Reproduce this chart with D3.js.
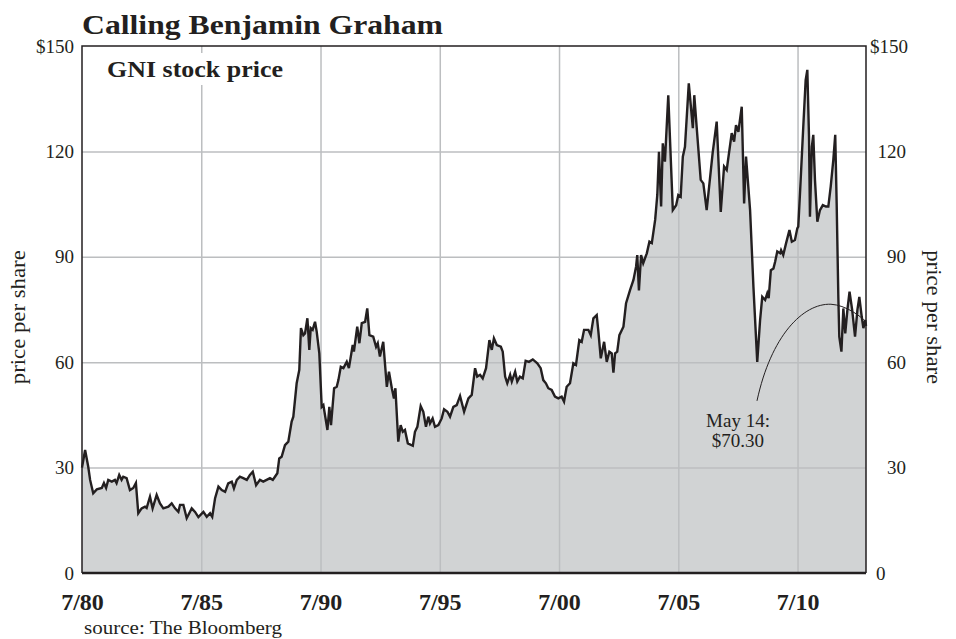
<!DOCTYPE html>
<html>
<head>
<meta charset="utf-8">
<script src="https://cdn.jsdelivr.net/npm/d3@7"></script>
<style>
  body { margin: 0; background: #fff; }
  text { font-family: "Liberation Serif", "DejaVu Serif", serif; fill: #231f20; }
</style>
</head>
<body>
<div id="chart"></div>
<script>
// GNI stock price (decimal year, $ per share)
var years = [
  1980.50, 1980.63, 1980.76, 1980.84, 1980.97, 1981.12, 1981.33, 1981.42, 1981.51, 1981.60,
  1981.75, 1981.88, 1981.95, 1982.06, 1982.16, 1982.23, 1982.37, 1982.51, 1982.65, 1982.76,
  1982.86, 1983.00, 1983.14, 1983.21, 1983.35, 1983.46, 1983.63, 1983.77, 1983.91, 1984.12,
  1984.26, 1984.40, 1984.54, 1984.61, 1984.75, 1984.89, 1985.10, 1985.24, 1985.38, 1985.59,
  1985.73, 1985.87, 1985.96, 1986.08, 1986.22, 1986.36, 1986.50, 1986.63, 1986.78, 1986.87,
  1986.99, 1987.12, 1987.26, 1987.41, 1987.54, 1987.66, 1987.80, 1987.96, 1988.10, 1988.24,
  1988.38, 1988.50, 1988.59, 1988.69, 1988.77, 1988.87, 1989.01, 1989.15, 1989.29, 1989.36,
  1989.50, 1989.61, 1989.68, 1989.78, 1989.85, 1989.95, 1990.03, 1990.09, 1990.17, 1990.27,
  1990.34, 1990.45, 1990.55, 1990.62, 1990.79, 1990.87, 1990.94, 1991.07, 1991.18, 1991.25,
  1991.35, 1991.46, 1991.60, 1991.69, 1991.85, 1991.90, 1992.04, 1992.13, 1992.23, 1992.37,
  1992.46, 1992.55, 1992.71, 1992.83, 1992.90, 1992.99, 1993.13, 1993.28, 1993.37, 1993.49,
  1993.58, 1993.64, 1993.76, 1993.86, 1993.95, 1994.04, 1994.16, 1994.37, 1994.46, 1994.56,
  1994.70, 1994.81, 1994.92, 1995.02, 1995.09, 1995.20, 1995.30, 1995.44, 1995.58, 1995.68,
  1995.82, 1995.93, 1996.07, 1996.21, 1996.35, 1996.52, 1996.70, 1996.84, 1996.98, 1997.07,
  1997.19, 1997.30, 1997.44, 1997.58, 1997.68, 1997.77, 1997.89, 1998.06, 1998.14, 1998.24,
  1998.33, 1998.45, 1998.52, 1998.66, 1998.75, 1998.86, 1998.98, 1999.10, 1999.24, 1999.40,
  1999.59, 1999.73, 1999.84, 1999.95, 2000.05, 2000.19, 2000.33, 2000.47, 2000.61, 2000.71,
  2000.82, 2000.96, 2001.10, 2001.21, 2001.35, 2001.45, 2001.55, 2001.73, 2001.83, 2001.94,
  2002.08, 2002.15, 2002.25, 2002.39, 2002.50, 2002.61, 2002.71, 2002.78, 2002.85, 2002.94,
  2003.03, 2003.20, 2003.31, 2003.48, 2003.62, 2003.73, 2003.78, 2003.85, 2003.94, 2004.03,
  2004.18, 2004.29, 2004.39, 2004.53, 2004.62, 2004.69, 2004.78, 2004.85, 2004.94, 2005.08,
  2005.27, 2005.41, 2005.50, 2005.60, 2005.69, 2005.78, 2005.94, 2006.11, 2006.17, 2006.27,
  2006.44, 2006.55, 2006.69, 2006.94, 2007.11, 2007.28, 2007.42, 2007.53, 2007.74, 2007.84,
  2007.92, 2008.02, 2008.16, 2008.26, 2008.34, 2008.51, 2008.65, 2008.81, 2008.93, 2009.02,
  2009.14, 2009.23, 2009.29, 2009.38, 2009.49, 2009.56, 2009.65, 2009.77, 2009.81, 2009.90,
  2010.02, 2010.16, 2010.26, 2010.39, 2010.49, 2010.53, 2010.61, 2010.74, 2010.84, 2010.91,
  2010.98, 2011.02, 2011.10, 2011.16, 2011.23, 2011.33, 2011.44, 2011.56, 2011.69, 2011.79,
  2011.89, 2012.00, 2012.08, 2012.14, 2012.21, 2012.25, 2012.34, 2012.42, 2012.50, 2012.59,
  2012.68, 2012.79, 2012.91, 2013.01, 2013.09, 2013.19, 2013.26, 2013.34, 2013.37
];
var prices = [
  30.0, 35.0, 30.3, 26.5, 22.7, 23.8, 24.2, 25.6, 24.2, 26.5,
  26.0, 26.5, 25.6, 27.9, 26.5, 27.4, 27.0, 23.6, 24.2, 25.6,
  17.0, 18.4, 18.9, 18.5, 21.7, 18.4, 22.2, 19.8, 18.4, 18.9,
  19.8, 18.4, 17.4, 19.4, 19.4, 15.6, 18.4, 17.4, 15.9, 17.4,
  16.0, 17.0, 16.0, 21.3, 24.6, 23.6, 23.1, 25.5, 26.0, 24.1,
  26.5, 27.4, 27.0, 26.5, 27.9, 28.8, 25.0, 26.5, 26.0, 26.5,
  27.0, 26.5, 27.4, 28.4, 32.6, 33.1, 36.4, 37.4, 43.1, 44.5,
  54.0, 57.8, 69.7, 67.7, 68.2, 72.5, 63.5, 69.7, 69.2, 71.5,
  68.7, 62.5, 47.3, 47.8, 40.7, 47.3, 42.1, 52.6, 53.0, 54.9,
  58.7, 58.3, 60.1, 58.3, 64.9, 63.0, 70.1, 65.4, 71.1, 71.5,
  75.3, 67.7, 67.3, 64.4, 65.4, 61.6, 65.8, 53.0, 57.3, 52.6,
  49.7, 52.6, 37.4, 42.1, 40.2, 40.7, 36.9, 36.2, 40.2, 41.6,
  47.5, 45.9, 41.6, 44.5, 42.6, 44.0, 41.6, 42.1, 44.0, 46.6,
  45.9, 44.5, 47.3, 47.8, 50.4, 45.9, 49.7, 50.7, 58.3, 55.9,
  56.4, 55.4, 58.3, 66.3, 63.5, 66.8, 64.9, 64.4, 63.0, 55.9,
  54.0, 56.4, 54.5, 57.3, 54.5, 55.9, 55.4, 60.4, 60.1, 60.8,
  59.7, 58.3, 54.9, 54.0, 52.6, 52.1, 50.2, 49.7, 50.2, 48.8,
  53.0, 54.0, 59.7, 59.2, 66.3, 65.8, 69.2, 69.2, 67.7, 72.5,
  73.4, 68.7, 61.1, 65.8, 60.1, 63.0, 62.5, 57.0, 62.5, 63.0,
  67.7, 70.1, 76.8, 80.6, 83.4, 87.2, 90.5, 80.4, 90.5, 88.2,
  91.0, 94.3, 93.9, 100.5, 107.6, 119.9, 104.3, 122.3, 117.1, 136.0,
  103.3, 104.7, 107.6, 107.1, 118.5, 121.3, 139.4, 126.6, 136.0, 127.0,
  111.9, 110.9, 103.3, 119.5, 128.5, 102.8, 115.7, 114.7, 125.2, 122.8,
  127.5, 125.6, 132.7, 105.2, 118.5, 103.3, 81.5, 60.1, 72.0, 78.6,
  77.7, 79.6, 78.2, 86.2, 86.7, 88.6, 91.5, 91.0, 91.9, 90.5,
  93.9, 97.6, 94.3, 94.8, 98.1, 98.6, 109.0, 127.0, 140.3, 143.2,
  124.4, 101.4, 121.4, 124.7, 111.9, 100.0, 103.3, 104.7, 104.3, 104.3,
  110.0, 117.6, 124.7, 105.2, 78.6, 67.3, 63.0, 75.3, 68.2, 74.9,
  80.1, 74.9, 67.3, 74.9, 78.6, 73.0, 69.7, 72.0, 70.3
];

var yTicks = [0, 30, 60, 90, 120, 150];
var yTickLabels = ['0', '30', '60', '90', '120', '$150'];
var xTicks = [1980.5, 1985.5, 1990.5, 1995.5, 2000.5, 2005.5, 2010.5];
var xTickLabels = ['7/80', '7/85', '7/90', '7/95', '7/00', '7/05', '7/10'];

var W = 956, H = 639;
var margin = { top: 46, right: 90, bottom: 66, left: 82 };
var w = W - margin.left - margin.right;
var h = H - margin.top - margin.bottom;

var data = years.map(function(d, i) { return { year: d, price: prices[i] }; });

// scales
var x = d3.scaleLinear()
  .domain([1980.5, 2013.37])
  .range([0, w]);

var y = d3.scaleLinear()
  .domain([0, 150])
  .range([h, 0]);

var svg = d3.select('#chart')
  .append('svg')
    .attr('width', W)
    .attr('height', H);

// title
svg.append('text')
  .text('Calling Benjamin Graham')
  .attr('x', margin.left)
  .attr('y', 34)
  .attr('font-size', 28)
  .attr('font-weight', 'bold')
  .attr('textLength', 361)
  .attr('lengthAdjust', 'spacingAndGlyphs');

var g = svg.append('g')
  .attr('transform', 'translate(' + margin.left + ',' + margin.top + ')');

// area under the price line
g.append('path')
  .datum(data)
  .attr('fill', '#d1d3d4')
  .attr('d', d3.area()
    .x(function(d) { return x(d.year); })
    .y0(h)
    .y1(function(d) { return y(d.price); }));

// grid
g.append('g')
  .attr('class', 'grid')
  .call(d3.axisLeft(y).tickValues([30, 60, 90, 120]).tickSize(-w).tickFormat(''))
  .call(function(s) { s.select('.domain').remove(); })
  .selectAll('line')
    .attr('stroke', '#bcbec0')
    .attr('stroke-width', 1.5);

g.append('g')
  .attr('class', 'grid')
  .attr('transform', 'translate(0,' + h + ')')
  .call(d3.axisBottom(x).tickValues(xTicks.slice(1)).tickSize(-h).tickFormat(''))
  .call(function(s) { s.select('.domain').remove(); })
  .selectAll('line')
    .attr('stroke', '#bcbec0')
    .attr('stroke-width', 1.5);

// price line
g.append('path')
  .datum(data)
  .attr('fill', 'none')
  .attr('stroke', '#231f20')
  .attr('stroke-width', 2.4)
  .attr('stroke-linejoin', 'miter')
  .attr('d', d3.line()
    .x(function(d) { return x(d.year); })
    .y(function(d) { return y(d.price); }));

// frame
g.append('path')
  .attr('fill', 'none')
  .attr('stroke', '#231f20')
  .attr('stroke-width', 1.5)
  .attr('d', 'M0,' + h + 'V0H' + w + 'V' + h);
g.append('line')
  .attr('x1', 0).attr('x2', w)
  .attr('y1', h).attr('y2', h)
  .attr('stroke', '#231f20')
  .attr('stroke-width', 2.5);

// subtitle with a white box behind it
var sub = g.append('g').attr('transform', 'translate(25,31)');
sub.append('rect')
  .attr('x', -6).attr('y', -24)
  .attr('width', 190).attr('height', 32)
  .attr('fill', '#fff');
sub.append('text')
  .text('GNI stock price')
  .attr('font-size', 23)
  .attr('font-weight', 'bold')
  .attr('textLength', 176)
  .attr('lengthAdjust', 'spacingAndGlyphs');

// y axes
var yLeft = g.append('g')
  .call(d3.axisLeft(y).tickValues(yTicks).tickSize(0).tickPadding(8)
    .tickFormat(function(d, i) { return yTickLabels[i]; }));
yLeft.select('.domain').remove();
yLeft.selectAll('text')
  .attr('font-family', '"Liberation Serif", serif')
  .attr('font-size', 19)
  .attr('fill', '#231f20');

var yRight = g.append('g')
  .attr('transform', 'translate(' + w + ',0)')
  .call(d3.axisRight(y).tickValues(yTicks).tickSize(0).tickPadding(0)
    .tickFormat(function(d, i) { return yTickLabels[i]; }));
yRight.select('.domain').remove();
yRight.selectAll('text')
  .attr('font-family', '"Liberation Serif", serif')
  .attr('font-size', 19)
  .attr('fill', '#231f20')
  .attr('text-anchor', function(d) { return d === 150 || d === 0 ? 'start' : 'end'; })
  .attr('x', function(d) { return d === 150 ? 4 : (d === 0 ? 10 : 40); });

// x axis
var xAxis = g.append('g')
  .attr('transform', 'translate(0,' + h + ')')
  .call(d3.axisBottom(x).tickValues(xTicks).tickSize(0).tickPadding(20)
    .tickFormat(function(d, i) { return xTickLabels[i]; }));
xAxis.select('.domain').remove();
xAxis.selectAll('text')
  .attr('font-family', '"Liberation Serif", serif')
  .attr('font-size', 24)
  .attr('font-weight', 'bold')
  .attr('fill', '#231f20');

// axis titles
svg.append('text')
  .text('price per share')
  .attr('transform', 'translate(25,' + (margin.top + y(60) - 45) + ') rotate(-90)')
  .attr('text-anchor', 'middle')
  .attr('font-size', 20)
  .attr('textLength', 134)
  .attr('lengthAdjust', 'spacingAndGlyphs');

svg.append('text')
  .text('price per share')
  .attr('transform', 'translate(927,' + (margin.top + y(60) - 45) + ') rotate(90)')
  .attr('text-anchor', 'middle')
  .attr('font-size', 20)
  .attr('textLength', 134)
  .attr('lengthAdjust', 'spacingAndGlyphs');

// annotation
var last = data[data.length - 1];
var p0 = [x(2008.8), y(49)];
var p1 = [x(2011.9), y(76.5)];
var p2 = [x(last.year), y(71.5)];
g.append('path')
  .attr('fill', 'none')
  .attr('stroke', '#231f20')
  .attr('stroke-width', 1)
  .attr('d', 'M' + p0 + 'C' + [p0[0] + 14, p0[1] - 65] + ' ' + [p1[0] - 28, p1[1] - 1] + ' ' + p1 +
             'C' + [p1[0] + 15, p1[1] + 1] + ' ' + [p2[0] - 6, p2[1] - 6] + ' ' + p2);

var note = g.append('g')
  .attr('transform', 'translate(' + (p0[0] - 19) + ',' + (p0[1] + 26) + ')');
note.append('text')
  .attr('text-anchor', 'middle')
  .attr('font-size', 19)
  .text('May 14:');
note.append('text')
  .attr('text-anchor', 'middle')
  .attr('font-size', 19)
  .attr('y', 20)
  .text('$' + d3.format('.2f')(last.price));

// source
svg.append('text')
  .text('source: The Bloomberg')
  .attr('x', margin.left + 2)
  .attr('y', 634)
  .attr('font-size', 19.5)
  .attr('textLength', 198)
  .attr('lengthAdjust', 'spacingAndGlyphs');
</script>
</body>
</html>
